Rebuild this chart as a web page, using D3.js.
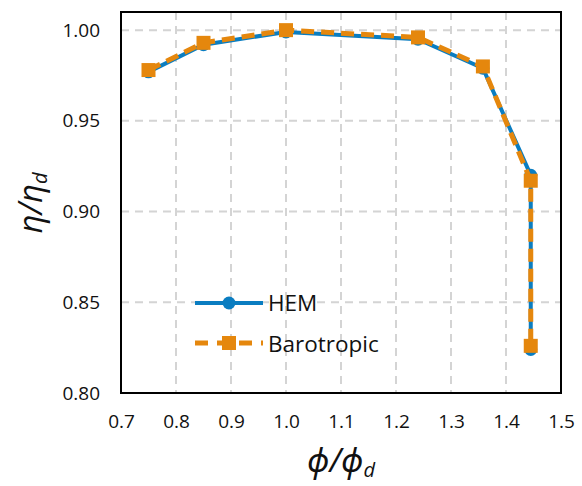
<!DOCTYPE html>
<html><head><meta charset="utf-8">
<script src="https://cdn.jsdelivr.net/npm/d3@7"></script>
<style>body{margin:0;background:#fff}</style>
</head><body>
<svg id="c" width="582" height="486"></svg>
<script>
const phi = [0.75, 0.85, 1.0, 1.24, 1.358, 1.445, 1.445];
const hem = [0.977, 0.992, 0.999, 0.995, 0.979, 0.920, 0.824];
const baro = [0.978, 0.993, 1.000, 0.996, 0.980, 0.917, 0.826];
const xTicks = [0.7, 0.8, 0.9, 1.0, 1.1, 1.2, 1.3, 1.4, 1.5];
const yTicks = [0.80, 0.85, 0.90, 0.95, 1.00];

const blue = "#0a7dc1", orange = "#e5870d";
const svg = d3.select("#c");
const L = 121, R = 561, T = 12, B = 393;
const x = d3.scaleLinear().domain([0.7, 1.5]).range([L, R]);
const y = d3.scaleLinear().domain([0.8, 1.01]).range([B, T]);
const font = "'Open Sans', 'Noto Sans', sans-serif";

// grid
svg.append("g").selectAll("line").data(xTicks.slice(1, -1)).join("line")
  .attr("x1", d => x(d)).attr("x2", d => x(d)).attr("y1", T).attr("y2", B)
  .attr("stroke", "#d4d4d4").attr("stroke-width", 2).attr("stroke-dasharray", "8,6");
svg.append("g").selectAll("line").data(yTicks.slice(1)).join("line")
  .attr("x1", L).attr("x2", R).attr("y1", d => y(d)).attr("y2", d => y(d))
  .attr("stroke", "#d4d4d4").attr("stroke-width", 2).attr("stroke-dasharray", "8,6");

// axes
const xa = svg.append("g").attr("transform", `translate(0,${B})`)
  .call(d3.axisBottom(x).tickValues(xTicks).tickFormat(d3.format(".1f")).tickSize(0).tickPadding(22));
const ya = svg.append("g").attr("transform", `translate(${L},0)`)
  .call(d3.axisLeft(y).tickValues(yTicks).tickFormat(d3.format(".2f")).tickSize(0).tickPadding(21));
[xa, ya].forEach(a => {
  a.select(".domain").remove();
  a.selectAll("text").attr("font-family", font).attr("font-size", 19).attr("fill", "#111");
});
svg.append("rect").attr("x", L).attr("y", T).attr("width", R - L).attr("height", B - T)
  .attr("fill", "none").attr("stroke", "#000").attr("stroke-width", 2);

// series
const line = d3.line().x(d => x(d[0])).y(d => y(d[1]));
const hemD = phi.map((p, i) => [p, hem[i]]);
const baroD = phi.map((p, i) => [p, baro[i]]);
svg.append("path").datum(hemD).attr("d", line).attr("fill", "none")
  .attr("stroke", blue).attr("stroke-width", 4);
svg.append("g").selectAll("circle").data(hemD).join("circle")
  .attr("cx", d => x(d[0])).attr("cy", d => y(d[1])).attr("r", 6.5).attr("fill", blue);
svg.append("path").datum(baroD).attr("d", line).attr("fill", "none")
  .attr("stroke", orange).attr("stroke-width", 5).attr("stroke-dasharray", "13,7");
svg.append("g").selectAll("rect").data(baroD).join("rect")
  .attr("x", d => x(d[0]) - 7).attr("y", d => y(d[1]) - 7).attr("width", 14).attr("height", 14).attr("fill", orange);

// legend
const lg = svg.append("g");
lg.append("line").attr("x1", 195).attr("x2", 263).attr("y1", 303).attr("y2", 303).attr("stroke", blue).attr("stroke-width", 4);
lg.append("circle").attr("cx", 229).attr("cy", 303).attr("r", 6.5).attr("fill", blue);
lg.append("text").attr("x", 268).attr("y", 311).text("HEM").attr("font-family", font).attr("font-size", 22.5).attr("fill", "#111");
lg.append("line").attr("x1", 195).attr("x2", 263).attr("y1", 343).attr("y2", 343).attr("stroke", orange).attr("stroke-width", 5).attr("stroke-dasharray", "13,9");
lg.append("rect").attr("x", 222).attr("y", 336).attr("width", 14).attr("height", 14).attr("fill", orange);
lg.append("text").attr("x", 268).attr("y", 352).text("Barotropic").attr("font-family", font).attr("font-size", 22.5).attr("fill", "#111");

// axis titles
const xt = svg.append("text").attr("x", 341).attr("y", 472).attr("text-anchor", "middle")
  .attr("font-family", font).attr("font-size", 33).attr("font-style", "italic").attr("fill", "#111");
xt.append("tspan").text("ϕ/ϕ");
xt.append("tspan").text("d").attr("font-size", 20).attr("dy", 5);
const yt = svg.append("text").attr("transform", "translate(42,203) rotate(-90)").attr("text-anchor", "middle")
  .attr("font-family", font).attr("font-size", 33).attr("font-style", "italic").attr("fill", "#111");
yt.append("tspan").text("η/η");
yt.append("tspan").text("d").attr("font-size", 20).attr("dy", 5);
</script>
</body></html>
